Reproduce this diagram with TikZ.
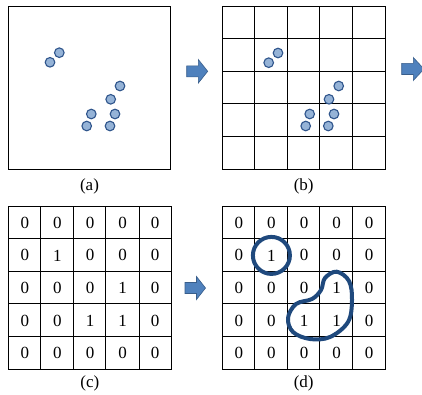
\documentclass[tikz,border=0pt]{standalone}
\usepackage{fontspec}
\setmainfont{Liberation Serif}
\definecolor{dotfill}{RGB}{149,179,215}
\definecolor{dotline}{RGB}{47,85,140}
\definecolor{arrfill}{RGB}{79,129,189}
\definecolor{arrline}{RGB}{56,93,138}
\definecolor{navy}{RGB}{31,73,125}
\tikzset{
  dotnode/.style={circle, draw=dotline, fill=dotfill, line width=1.1pt, minimum size=9.6pt, inner sep=0pt},
  frame/.style={draw=black, line width=1.1pt, line cap=rect},
  digit/.style={font=\fontsize{17}{20}\selectfont, inner sep=0pt},
  caption/.style={font=\fontsize{17}{20}\selectfont, anchor=base, inner sep=0pt},
  blockarrow/.style={fill=arrfill, draw=arrline, line width=0.6pt, line join=miter},
  groupline/.style={draw=navy, line width=4pt},
}
\begin{document}
\begin{tikzpicture}[x=1pt, y=-1pt]
\useasboundingbox (0,0) rectangle (422,394);
\clip (0,0) rectangle (422,394);
\fill[white] (0,0) rectangle (422,394);

% (a)
\draw[frame] (8.5,6.5) rectangle (170.5,169.5);
\foreach \x/\y [count=\k] in {59.3/52.7, 50/62.3, 120/86, 110.7/99.3, 91.3/114, 115/114, 86.7/126, 110/126}
  \node[dotnode] (a\k) at (\x,\y) {};
\node[caption] (la) at (89.5,190) {(a)};

% arrow a -> b
\draw[blockarrow] (186.7,65.8) -- (198.3,65.8) -- (198.3,59.5) -- (207.7,71.3) -- (198.3,83.1) -- (198.3,76.8) -- (186.7,76.8) -- cycle;

% (b)
\foreach \p in {222.5,254.5,287.5,319.5,352.5,385.5}
  \draw[frame] (\p,6.5) -- (\p,169.5);
\foreach \q in {6.5,38.5,71.5,103.5,136.5,169.5}
  \draw[frame] (222.5,\q) -- (385.5,\q);
\foreach \x/\y [count=\k] in {278/53, 268.7/62.7, 338.7/86, 329/99.3, 309.7/114, 334/114, 305.7/126, 328.3/126}
  \node[dotnode] (b\k) at (\x,\y) {};
\node[caption] (lb) at (303.7,190) {(b)};

% arrow b -> (clipped)
\draw[blockarrow] (401.7,63.3) -- (413.3,63.3) -- (413.3,57.5) -- (424,69) -- (413.3,80.5) -- (413.3,74.5) -- (401.7,74.5) -- cycle;

% (c)
\foreach \p in {8.5,40.5,73.5,105.5,139.5,171.5}
  \draw[frame] (\p,206.5) -- (\p,369.5);
\foreach \q in {206.5,238.5,271.5,303.5,336.5,369.5}
  \draw[frame] (8.5,\q) -- (171.5,\q);
\foreach \row [count=\r from 0] in {{0,0,0,0,0},{0,1,0,0,0},{0,0,0,1,0},{0,0,1,1,0},{0,0,0,0,0}} {
  \foreach \v [count=\c from 0] in \row {
    \node[digit] (c-\r-\c) at ({8.5+32.6*\c+16.3},{206.5+32.6*\r+16.3}) {\v};
  }
}
\node[caption] (lc) at (89.8,387) {(c)};

% arrow c -> d
\draw[blockarrow] (185,282.5) -- (196.5,282.5) -- (196.5,276.5) -- (205.5,288) -- (196.5,299.5) -- (196.5,293.5) -- (185,293.5) -- cycle;

% (d)
\foreach \p in {222.5,254.5,287.5,319.5,352.5,385.5}
  \draw[frame] (\p,206.5) -- (\p,369.5);
\foreach \q in {206.5,238.5,271.5,303.5,336.5,369.5}
  \draw[frame] (222.5,\q) -- (385.5,\q);
\foreach \row [count=\r from 0] in {{0,0,0,0,0},{0,1,0,0,0},{0,0,0,1,0},{0,0,1,1,0},{0,0,0,0,0}} {
  \foreach \v [count=\c from 0] in \row {
    \node[digit] (d-\r-\c) at ({222.5+32.6*\c+16.3},{206.5+32.6*\r+16.3}) {\v};
  }
}
\node[caption] (ld) at (303.7,387) {(d)};

% groups
\draw[groupline] (d-1-1.center) circle[radius=18.5pt];
\draw[groupline] plot[smooth cycle, tension=0.6] coordinates {
  (336.7,271.7) (349,281) (352,300) (348,322) (330,337) (310,339)
  (293,332) (288,318) (296,304) (312,299) (321,290) (325,278)};
\end{tikzpicture}
\end{document}
